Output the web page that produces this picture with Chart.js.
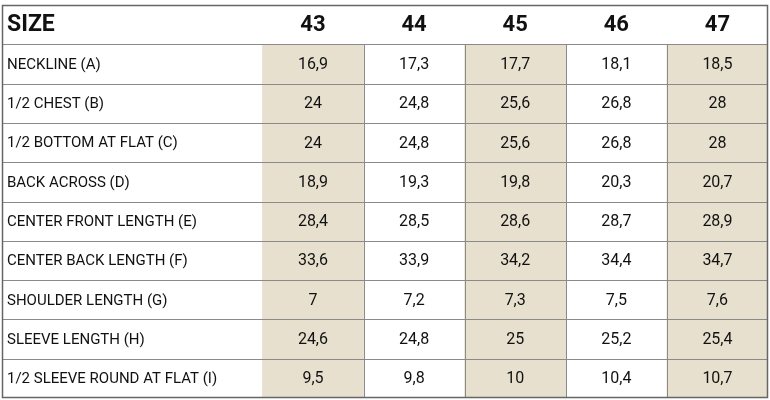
<!DOCTYPE html>
<html><head><meta charset="utf-8">
<script src="https://cdn.jsdelivr.net/npm/chart.js@4"></script>
<style>html,body{margin:0;padding:0;background:#fff}#w{width:770px;height:400px}</style>
</head><body><div id="w"><canvas id="c"></canvas></div>
<script>
const sizes = ["43","44","45","46","47"];
const rowLabels = ["NECKLINE (A)","1/2 CHEST (B)","1/2 BOTTOM AT FLAT (C)","BACK ACROSS (D)","CENTER FRONT LENGTH (E)","CENTER BACK LENGTH (F)","SHOULDER LENGTH (G)","SLEEVE LENGTH (H)","1/2 SLEEVE ROUND AT FLAT (I)"];
const s43 = ["16,9","24","24","18,9","28,4","33,6","7","24,6","9,5"];
const s44 = ["17,3","24,8","24,8","19,3","28,5","33,9","7,2","24,8","9,8"];
const s45 = ["17,7","25,6","25,6","19,8","28,6","34,2","7,3","25","10"];
const s46 = ["18,1","26,8","26,8","20,3","28,7","34,4","7,5","25,2","10,4"];
const s47 = ["18,5","28","28","20,7","28,9","34,7","7,6","25,4","10,7"];
const cols = [s43,s44,s45,s46,s47];
const shaded = [0,2,4];
const cats = ["SIZE"].concat(rowLabels);
const LABEL_W = 2.575;

const datasets = shaded.map(ci => ({
  data: cats.map((c,ri)=> ri===0 ? null : [ci, ci+1]),
  backgroundColor: '#e8e0cf', borderWidth: 0,
  barPercentage: 1, categoryPercentage: 1, grouped: false
}));

const tablePlugin = {
  id:'table',
  afterDatasetsDraw(chart){
    const ctx = chart.ctx, x = chart.scales.x, y = chart.scales.y, a = chart.chartArea;
    const rowH = (a.bottom - a.top)/cats.length;
    ctx.save();
    // grid
    ctx.strokeStyle = '#8a8a8a'; ctx.lineWidth = 1;
    for (let i=1;i<cats.length;i++){ const yy=Math.round(a.top+i*rowH)+0.5; ctx.beginPath(); ctx.moveTo(a.left,yy); ctx.lineTo(a.right,yy); ctx.stroke(); }
    for (let i=1;i<sizes.length;i++){ const xx=Math.round(x.getPixelForValue(i))+0.5; ctx.beginPath(); ctx.moveTo(xx,a.top+rowH); ctx.lineTo(xx,a.bottom); ctx.stroke(); }
    ctx.strokeStyle='#666'; ctx.lineWidth=1.5; ctx.strokeRect(a.left+0.5,a.top+0.5,a.right-a.left-1,a.bottom-a.top-1);
    // text
    ctx.fillStyle='#111'; ctx.textBaseline='middle';
    cats.forEach((c,ri)=>{
      const cy = y.getPixelForValue(ri)+1;
      ctx.textAlign='left';
      ctx.font = ri===0 ? 'bold 23px Roboto' : '15px Roboto';
      ctx.fillText(c, a.left+5, cy);
      ctx.textAlign='center';
      sizes.forEach((s,ci)=>{
        const cx = x.getPixelForValue(ci+0.5);
        if (ri===0){ ctx.font='bold 22px Roboto'; ctx.fillText(s,cx,cy); }
        else { ctx.font='16px Roboto'; ctx.fillText(cols[ci][ri-1],cx,cy); }
      });
    });
    ctx.restore();
  }
};

new Chart(document.getElementById('c'), {
  type:'bar',
  data:{ labels: cats, datasets },
  options:{
    indexAxis:'y', responsive:true, maintainAspectRatio:false, animation:false,
    layout:{ padding:{left:2,right:2,top:5,bottom:2} },
    plugins:{ legend:{display:false}, tooltip:{enabled:false} },
    scales:{
      x:{ type:'linear', min:-LABEL_W, max:sizes.length, display:false },
      y:{ display:false, offset:true }
    }
  },
  plugins:[tablePlugin]
});
</script></body></html>
